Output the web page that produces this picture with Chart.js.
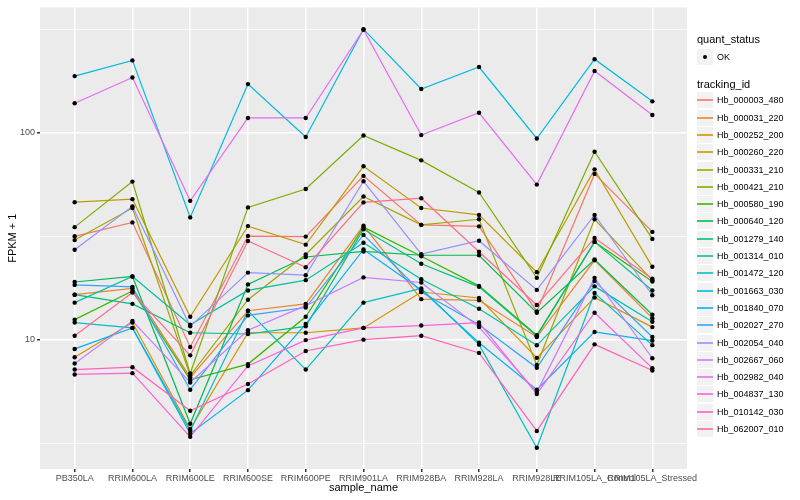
<!DOCTYPE html>
<html>
<head>
<meta charset="utf-8">
<script src="https://cdn.jsdelivr.net/npm/chart.js@4.4.1/dist/chart.umd.min.js"></script>
<style>
  body { margin: 0; background: #fff; font-family: "Liberation Sans", Arial, sans-serif; }
  #wrap { position: relative; width: 800px; height: 500px; }
  #legend { position: absolute; left: 697px; top: 0; width: 103px; }
  .ttl { position: absolute; left: 0; font-size: 11px; color: #000; white-space: nowrap; line-height: 13px; }
  .key { position: absolute; left: 0; width: 16px; height: 16px; background: #F2F2F2; }
  .key i { position: absolute; left: 0; right: 0; top: 7px; height: 2px; opacity: 0.8; }
  .key b { position: absolute; left: 6px; top: 6px; width: 4px; height: 4px; border-radius: 50%; background: #000; }
  .lab { position: absolute; left: 20px; font-size: 9px; color: #000; white-space: nowrap; line-height: 11px; }
</style>
</head>
<body>
<div id="wrap">
  <canvas id="chart" width="800" height="500"></canvas>
  <div id="legend"></div>
</div>
<script>
// categories
const sampleNames = ['PB350LA', 'RRIM600LA', 'RRIM600LE', 'RRIM600SE', 'RRIM600PE', 'RRIM901LA',
  'RRIM928BA', 'RRIM928LA', 'RRIM928LE', 'RRIM105LA_Control', 'RRIM105LA_Stressed'];

// FPKM + 1 per tracking_id, one value per sample
const hb_000003_480 = [31.6, 36.9, 9.22, 31.7, 31.5, 61.9, 35.9, 35.3, 13.7, 63.3, 33.2];
const hb_000031_220 = [16.5, 17.7, 6.57, 13.8, 14.9, 35.6, 15.7, 15.5, 10.3, 24.2, 12.7];
const hb_000252_200 = [8.22, 12.1, 3.70, 10.8, 10.8, 11.4, 17.0, 15.9, 8.17, 16.0, 11.5];
const hb_000260_220 = [46.2, 47.8, 12.9, 35.4, 28.8, 68.9, 43.3, 40.1, 21.2, 66.6, 22.5];
const hb_000331_210 = [30.3, 43.3, 6.71, 15.6, 25.8, 49.2, 35.9, 38.2, 7.54, 38.2, 19.4];
const hb_000421_210 = [35.0, 58.1, 6.86, 43.6, 53.5, 97.0, 73.6, 51.5, 19.9, 81.0, 30.7];
const hb_000580_190 = [12.5, 17.2, 6.39, 7.62, 12.9, 35.0, 25.3, 18.2, 10.5, 29.7, 19.1];
const hb_000640_120 = [19.0, 20.2, 3.92, 18.5, 25.1, 26.7, 25.6, 25.6, 13.5, 24.4, 13.2];
const hb_001279_140 = [16.5, 14.9, 10.8, 10.65, 11.6, 34.2, 23.3, 18.0, 10.4, 29.7, 17.3];
const hb_001314_010 = [15.1, 20.2, 11.8, 17.3, 19.4, 29.4, 19.6, 14.1, 9.39, 18.1, 12.2];
const hb_001472_120 = [12.1, 11.4, 3.63, 13.8, 7.17, 15.1, 17.7, 9.46, 3.00, 16.8, 9.41];
const hb_001663_030 = [188, 224, 39.0, 172, 95.4, 317, 163, 208, 93.9, 227, 142];
const hb_001840_070 = [9.02, 11.4, 3.51, 5.70, 11.9, 27.3, 17.4, 9.67, 5.73, 10.9, 9.89];
const hb_002027_270 = [18.4, 18.0, 5.73, 13.1, 14.3, 32.1, 17.0, 11.8, 7.31, 19.2, 10.3];
const hb_002054_040 = [27.2, 44.1, 11.6, 21.1, 20.5, 58.3, 25.9, 30.1, 17.4, 40.1, 16.4];
const hb_002667_060 = [7.67, 12.3, 6.21, 11.1, 14.6, 20.0, 18.9, 11.5, 5.58, 19.9, 8.13];
const hb_002982_040 = [139, 185, 46.9, 118, 118, 315, 97.5, 125, 56.2, 199, 122];
const hb_004837_130 = [6.79, 6.89, 3.39, 7.46, 9.95, 11.4, 11.7, 12.1, 5.46, 13.5, 7.28];
const hb_010142_030 = [7.17, 7.36, 4.53, 6.11, 8.82, 10.0, 10.45, 8.63, 3.62, 9.49, 7.10];
const hb_062007_010 = [10.45, 16.9, 8.40, 30.0, 22.4, 46.1, 48.3, 26.6, 14.7, 31.0, 19.7];

const trackingIds = ['Hb_000003_480', 'Hb_000031_220', 'Hb_000252_200', 'Hb_000260_220', 'Hb_000331_210',
  'Hb_000421_210', 'Hb_000580_190', 'Hb_000640_120', 'Hb_001279_140', 'Hb_001314_010',
  'Hb_001472_120', 'Hb_001663_030', 'Hb_001840_070', 'Hb_002027_270', 'Hb_002054_040',
  'Hb_002667_060', 'Hb_002982_040', 'Hb_004837_130', 'Hb_010142_030', 'Hb_062007_010'];
const seriesValues = [hb_000003_480, hb_000031_220, hb_000252_200, hb_000260_220, hb_000331_210,
  hb_000421_210, hb_000580_190, hb_000640_120, hb_001279_140, hb_001314_010,
  hb_001472_120, hb_001663_030, hb_001840_070, hb_002027_270, hb_002054_040,
  hb_002667_060, hb_002982_040, hb_004837_130, hb_010142_030, hb_062007_010];

// y axis ticks (labelled) and minor grid positions
const yTicks = [10, 100];
const yMinor = [3.1623, 31.623, 316.23];

// ggplot hue palette
const colors = ['#F8766D', '#EA8331', '#D89000', '#C09B00', '#A3A500', '#7CAE00', '#39B600', '#00BB4E',
  '#00BF7D', '#00C1A3', '#00BFC4', '#00BAE0', '#00B0F6', '#35A2FF', '#9590FF', '#C77CFF',
  '#E76BF3', '#FA62DB', '#FF62BC', '#FF6C91'];

Chart.defaults.font.family = '"Liberation Sans", Arial, sans-serif';

const datasets = seriesValues.map((vals, i) => ({
  label: trackingIds[i],
  data: vals.map((v, j) => ({ x: j, y: v })),
  borderColor: colors[i],
  borderWidth: 1.2,
  pointRadius: 0,
  fill: false,
  tension: 0,
  order: 20 - i
}));

// black points drawn above every line
datasets.push({
  label: 'OK',
  data: seriesValues.flatMap(vals => vals.map((v, j) => ({ x: j, y: v }))),
  showLine: false,
  pointRadius: 2.2,
  pointBackgroundColor: '#000',
  pointBorderColor: '#000',
  pointBorderWidth: 0,
  order: -1
});

const panelBg = {
  id: 'panelBg',
  beforeDraw(chart) {
    const a = chart.chartArea, c = chart.ctx;
    c.save();
    c.fillStyle = '#EBEBEB';
    c.fillRect(a.left, a.top, a.right - a.left, a.bottom - a.top);
    c.restore();
  }
};

new Chart(document.getElementById('chart'), {
  type: 'line',
  data: { datasets },
  options: {
    responsive: false,
    animation: false,
    layout: { padding: { top: 5, right: 113, left: 0, bottom: 0 } },
    plugins: { legend: { display: false }, tooltip: { enabled: false } },
    scales: {
      x: {
        type: 'linear', min: -0.6, max: 10.6,
        afterBuildTicks: s => { s.ticks = sampleNames.map((_, i) => ({ value: i })); },
        afterFit: s => { s.height = 31; },
        ticks: {
          callback: v => sampleNames[v],
          autoSkip: false, maxRotation: 0, minRotation: 0, padding: 1,
          color: '#4D4D4D', font: { size: 9 }
        },
        grid: { color: '#FFFFFF', lineWidth: 1.5, tickLength: 3, tickColor: '#333333' },
        border: { display: false },
        title: { display: true, text: 'sample_name', color: '#000', font: { size: 11 }, padding: { top: 0, bottom: 5 } }
      },
      y: {
        type: 'logarithmic', min: 2.37, max: 404,
        afterBuildTicks: s => {
          s.ticks = yMinor.concat(yTicks).sort((a, b) => a - b).map(v => ({ value: v }));
        },
        afterFit: s => { s.width = 40; },
        ticks: {
          callback: v => yTicks.includes(v) ? String(v) : '',
          padding: 2, color: '#4D4D4D', font: { size: 9 }
        },
        grid: {
          color: '#FFFFFF',
          lineWidth: ctx => (ctx.tick && yTicks.includes(ctx.tick.value)) ? 1.5 : 0.7,
          tickColor: ctx => (ctx.tick && yTicks.includes(ctx.tick.value)) ? '#333333' : 'rgba(0,0,0,0)',
          tickLength: 3
        },
        border: { display: false },
        title: { display: true, text: 'FPKM + 1', color: '#000', font: { size: 11 }, padding: { top: 6, bottom: 0 } }
      }
    }
  },
  plugins: [panelBg]
});

// ggplot style legend
const lg = document.getElementById('legend');
let html = '<div class="ttl" style="top:33px">quant_status</div>';
html += '<div class="key" style="top:49px"><b></b></div><div class="lab" style="top:52px">OK</div>';
html += '<div class="ttl" style="top:78px">tracking_id</div>';
trackingIds.forEach((id, i) => {
  const top = Math.round(92.3 + i * 17.3);
  html += '<div class="key" style="top:' + top + 'px"><i style="background:' + colors[i] + '"></i></div>';
  html += '<div class="lab" style="top:' + (top + 3) + 'px">' + id + '</div>';
});
lg.innerHTML = html;
</script>
</body>
</html>
